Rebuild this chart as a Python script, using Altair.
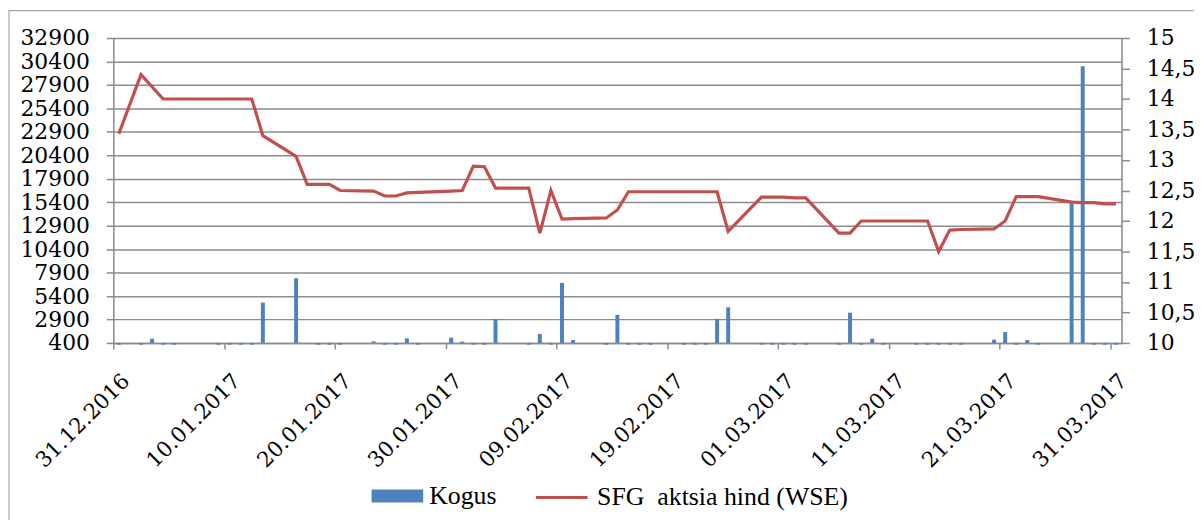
import altair as alt
import pandas as pd

LINE_LABEL = "SFG\u00a0 aktsia hind (WSE)"

bar_dates = [
    "2016-12-31", "2017-01-02", "2017-01-03", "2017-01-04", "2017-01-05",
    "2017-01-09", "2017-01-10", "2017-01-11", "2017-01-12", "2017-01-13",
    "2017-01-16", "2017-01-18", "2017-01-19", "2017-01-20", "2017-01-23",
    "2017-01-24", "2017-01-25", "2017-01-26", "2017-01-27", "2017-01-30",
    "2017-01-31", "2017-02-01", "2017-02-02", "2017-02-03", "2017-02-06",
    "2017-02-07", "2017-02-08", "2017-02-09", "2017-02-10", "2017-02-13",
    "2017-02-14", "2017-02-15", "2017-02-16", "2017-02-17", "2017-02-20",
    "2017-02-21", "2017-02-22", "2017-02-23", "2017-02-24", "2017-02-27",
    "2017-02-28", "2017-03-01", "2017-03-02", "2017-03-03", "2017-03-06",
    "2017-03-07", "2017-03-08", "2017-03-09", "2017-03-10", "2017-03-13",
    "2017-03-14", "2017-03-15", "2017-03-16", "2017-03-17", "2017-03-20",
    "2017-03-21", "2017-03-22", "2017-03-23", "2017-03-24", "2017-03-27",
    "2017-03-28", "2017-03-29", "2017-03-30", "2017-03-31",
]
bar_values = [
    220, 220, 850, 220, 220,
    220, 220, 220, 220, 4700,
    7300, 220, 220, 220, 570,
    220, 220, 890, 220, 960,
    540, 220, 220, 2950, 220,
    1350, 220, 6800, 720, 220,
    3400, 220, 220, 220, 220,
    220, 220, 2970, 4200, 220,
    220, 220, 220, 220, 220,
    3630, 220, 850, 220, 220,
    220, 220, 220, 220, 750,
    1560, 220, 720, 220, 15550,
    29900, 220, 220, 220,
]

line_dates = [
    "2016-12-31", "2017-01-02", "2017-01-04", "2017-01-05", "2017-01-09",
    "2017-01-10", "2017-01-11", "2017-01-12", "2017-01-13", "2017-01-16",
    "2017-01-17", "2017-01-18", "2017-01-19", "2017-01-20", "2017-01-23",
    "2017-01-24", "2017-01-25", "2017-01-26", "2017-01-27", "2017-01-30",
    "2017-01-31", "2017-02-01", "2017-02-02", "2017-02-03", "2017-02-06",
    "2017-02-07", "2017-02-08", "2017-02-09", "2017-02-10", "2017-02-13",
    "2017-02-14", "2017-02-15", "2017-02-16", "2017-02-17", "2017-02-20",
    "2017-02-21", "2017-02-22", "2017-02-23", "2017-02-24", "2017-02-27",
    "2017-02-28", "2017-03-01", "2017-03-02", "2017-03-03", "2017-03-06",
    "2017-03-07", "2017-03-08", "2017-03-09", "2017-03-10", "2017-03-13",
    "2017-03-14", "2017-03-15", "2017-03-16", "2017-03-17", "2017-03-20",
    "2017-03-21", "2017-03-22", "2017-03-23", "2017-03-24", "2017-03-27",
    "2017-03-28", "2017-03-29", "2017-03-30", "2017-03-31",
]
line_values = [
    13.43, 14.40, 14.00, 14.00, 14.00,
    14.00, 14.00, 14.00, 13.40, 13.06,
    12.60, 12.60, 12.60, 12.50, 12.49,
    12.41, 12.41, 12.46, 12.47, 12.49,
    12.50, 12.90, 12.89, 12.54, 12.54,
    11.80, 12.50, 12.03, 12.04, 12.05,
    12.18, 12.48, 12.48, 12.48, 12.48,
    12.48, 12.48, 12.48, 11.83, 12.39,
    12.39, 12.39, 12.38, 12.38, 11.80,
    11.80, 12.00, 12.00, 12.00, 12.00,
    12.00, 11.50, 11.85, 11.86, 11.87,
    12.00, 12.40, 12.40, 12.40, 12.31,
    12.30, 12.30, 12.28, 12.28,
]

tick_dates = [
    "2016-12-31", "2017-01-10", "2017-01-20", "2017-01-30", "2017-02-09",
    "2017-02-19", "2017-03-01", "2017-03-11", "2017-03-21", "2017-03-31",
]
left_ticks = [400, 2900, 5400, 7900, 10400, 12900, 15400, 17900, 20400,
              22900, 25400, 27900, 30400, 32900]
right_ticks = [10, 10.5, 11, 11.5, 12, 12.5, 13, 13.5, 14, 14.5, 15]


def ms(d):
    return int(pd.Timestamp(d, tz="UTC").value // 10**6)


NUM_FONT = "DejaVu Serif"
FONT = "Liberation Serif"
GRAY = "#8c8c8c"

bars_df = pd.DataFrame({"date": bar_dates, "kogus": bar_values, "s": "Kogus"})
line_df = pd.DataFrame({"date": line_dates, "hind": line_values, "s": LINE_LABEL})

x_enc = alt.X(
    "t:T",
    title=None,
    scale=alt.Scale(type="utc", domain=[ms("2016-12-31"), ms("2017-04-01")],
                    padding=0, nice=False),
    axis=alt.Axis(
        values=[ms(d) for d in tick_dates],
        format="%d.%m.%Y",
        labelAngle=-45,
        labelAlign="right",
        labelBaseline="middle",
        labelFont=NUM_FONT,
        labelFontSize=21.5,
        labelColor="black",
        labelPadding=29,
        labelOffset=13,
        labelFlush=False,
        labelOverlap=False,
        labelBound=False,
        tickColor=GRAY,
        tickSize=6,
        tickWidth=1.5,
        domainColor=GRAY,
        domainWidth=1.5,
        grid=False,
    ),
)

frame = alt.Chart(pd.DataFrame({"k": [0]})).mark_rect(
    fillOpacity=0, stroke="#a8a8a8", strokeWidth=1.2
).encode(
    x=alt.value(-105), x2=alt.value(1120),
    y=alt.value(-27.5), y2=alt.value(520),
)

bars = alt.Chart(bars_df).transform_calculate(
    t="time(toDate(datum.date)) + 43200000"
).mark_bar(size=4).encode(
    x=x_enc,
    y=alt.Y(
        "kogus:Q",
        title=None,
        scale=alt.Scale(domain=[400, 32900], zero=False, nice=False),
        axis=alt.Axis(
            values=left_ticks,
            format="d",
            labelFont=NUM_FONT,
            labelFontSize=22,
            labelColor="black",
            labelPadding=17,
            labelOverlap=False,
            labelFlush=False,
            tickColor=GRAY,
            tickSize=7,
            tickWidth=1.5,
            domainColor=GRAY,
            domainWidth=1.5,
            grid=True,
            gridColor=GRAY,
            gridWidth=1.5,
        ),
    ),
    y2=alt.datum(400),
    color=alt.Color(
        "s:N",
        scale=alt.Scale(domain=["Kogus"], range=["#4F81BD"]),
        legend=alt.Legend(
            title=None,
            orient="none",
            legendX=260,
            legendY=435,
            padding=0,
            symbolType="M-1,-0.25H1V0.25H-1Z",
            symbolSize=2704,
            symbolStrokeWidth=0,
            labelOffset=6,
            labelLimit=400,
            labelFont=FONT,
            labelFontSize=26,
            labelColor="black",
        ),
    ),
)

line = alt.Chart(line_df).transform_calculate(
    t="time(toDate(datum.date)) + 43200000"
).mark_line(strokeWidth=3.2).encode(
    x=x_enc,
    y=alt.Y(
        "hind:Q",
        title=None,
        scale=alt.Scale(domain=[10, 15], zero=False, nice=False),
        axis=alt.Axis(
            orient="right",
            values=right_ticks,
            labelExpr="replace(toString(datum.value), '.', ',')",
            labelFont=NUM_FONT,
            labelFontSize=22,
            labelColor="black",
            labelPadding=17,
            labelOverlap=False,
            labelFlush=False,
            tickColor=GRAY,
            tickSize=8,
            tickWidth=1.5,
            domainColor=GRAY,
            domainWidth=1.5,
            grid=False,
        ),
    ),
    color=alt.Color(
        "s:N",
        scale=alt.Scale(domain=[LINE_LABEL], range=["#C0504D"]),
        legend=alt.Legend(
            title=None,
            orient="none",
            legendX=424,
            legendY=435,
            padding=0,
            symbolType="stroke",
            symbolSize=2704,
            symbolStrokeWidth=3,
            labelOffset=8,
            labelLimit=400,
            labelFont=FONT,
            labelFontSize=26,
            labelColor="black",
        ),
    ),
)

chart = alt.layer(frame, bars, line).resolve_scale(
    y="independent", color="independent"
).properties(
    width=1015,
    height=307,
    autosize=alt.AutoSizeParams(type="none"),
    padding={"left": 106, "top": 28.5, "right": 73, "bottom": 176.5},
).configure_view(stroke=None).configure(background="white")

chart.save("out.html", embed_options={"renderer": "svg", "actions": False})
